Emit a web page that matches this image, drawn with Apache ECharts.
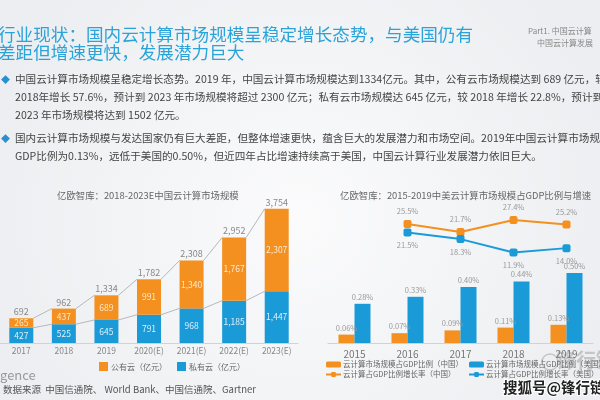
<!DOCTYPE html>
<html><head><meta charset="utf-8">
<script src="https://cdn.jsdelivr.net/npm/echarts@6/dist/echarts.min.js"></script>
<style>html,body{margin:0;padding:0;}#c{width:600px;height:400px;}</style>
</head><body><div id="c"></div>
<script>
// ---- data ----
const yearsL = ['2017','2018','2019','2020(E)','2021(E)','2022(E)','2023(E)'];
const publicCloud = [265, 437, 689, 991, 1340, 1767, 2307];
const privateCloud = [427, 525, 645, 791, 968, 1185, 1447];
const totalCloud = [692, 962, 1334, 1782, 2308, 2952, 3754];

const yearsR = ['2015','2016','2017','2018','2019'];
const gdpChina = [0.06, 0.07, 0.09, 0.11, 0.13];
const gdpUS = [0.28, 0.33, 0.40, 0.44, 0.50];
const growthChina = [null, 25.5, 21.7, 27.4, 25.2];
const growthUS = [null, 21.5, 18.3, 11.9, 14.0];

const titleLines = ['行业现状：国内云计算市场规模呈稳定增长态势，与美国仍有', '差距但增速更快，发展潜力巨大'];
const bulletLines = [
  '中国云计算市场规模呈稳定增长态势。2019 年，中国云计算市场规模达到1334亿元。其中，公有云市场规模达到 689 亿元，较',
  '2018年增长 57.6%，预计到 2023 年市场规模将超过 2300 亿元；私有云市场规模达 645 亿元，较 2018 年增长 22.8%，预计到',
  '2023 年市场规模将达到 1502 亿元。',
  '国内云计算市场规模与发达国家仍有巨大差距，但整体增速更快，蕴含巨大的发展潜力和市场空间。2019年中国云计算市场规模',
  'GDP比例为0.13%，远低于美国的0.50%，但近四年占比增速持续高于美国，中国云计算行业发展潜力依旧巨大。'
];

const ORANGE = '#f3901f', BLUE = '#1b9ad8', FONT = '"Noto Sans CJK SC", "Noto Sans", sans-serif';

const chart = echarts.init(document.getElementById('c'));

function connector(vals) {
  const d = [];
  for (let i = 0; i < vals.length - 1; i++) d.push([i, vals[i], vals[i + 1]]);
  return d;
}
function connRender(params, api) {
  const i = api.value(0);
  const p1 = api.coord([i, api.value(1)]);
  const p2 = api.coord([i + 1, api.value(2)]);
  const hw = 12;
  return { type: 'line', shape: { x1: p1[0] + hw, y1: p1[1], x2: p2[0] - hw, y2: p2[1] },
    style: { stroke: '#b5b8bd', lineWidth: 1 } };
}

const graphics = [];
titleLines.forEach((t, k) => graphics.push({ type: 'text', left: -2, top: 26 + k * 18,
  style: { text: t, font: '17.6px ' + FONT, fill: '#2aa3d8' } }));
graphics.push({ type: 'text', left: 528, top: 27, style: { text: 'Part1. 中国云计算', font: '8px ' + FONT, fill: '#888' } });
graphics.push({ type: 'text', left: 537, top: 39, style: { text: '中国云计算发展', font: '8px ' + FONT, fill: '#888' } });
const bulletY = [81, 99, 117, 140, 158];
bulletLines.forEach((t, k) => {
  graphics.push({ type: 'text', left: 15, top: bulletY[k] - 7, style: { text: t, font: '10.6px ' + FONT, fill: '#444' } });
});
[81, 140].forEach(y => graphics.push({ type: 'text', left: 1, top: y - 6, style: { text: '◆', font: '9px ' + FONT, fill: '#2a8fd0' } }));
graphics.push({ type: 'text', left: 57, top: 191, style: { text: '亿欧智库：2018-2023E中国云计算市场规模', font: '9.4px ' + FONT, fill: '#666' } });
graphics.push({ type: 'text', left: 340, top: 191, style: { text: '亿欧智库：2015-2019中美云计算市场规模占GDP比例与增速', font: '9.4px ' + FONT, fill: '#666' } });
graphics.push({ type: 'text', left: 0, top: 369, style: { text: 'gence', font: '13px ' + FONT, fill: '#999' } });
graphics.push({ type: 'text', left: 3, top: 385, style: { text: '数据来源  中国信通院、 World Bank、中国信通院、Gartner', font: '9.5px ' + FONT, fill: '#555' } });
// watermark
graphics.push({ type: 'text', left: 556, top: 350, z: 50, style: { text: '锋行链盟', font: 'bold 20px ' + FONT, fill: 'rgba(120,120,120,0.35)' } });
graphics.push({ type: 'circle', shape: { cx: 550, cy: 362, r: 8 }, z: 50, style: { fill: 'none', stroke: 'rgba(120,120,120,0.35)', lineWidth: 1.5 } });
graphics.push({ type: 'text', left: 502, top: 379, z: 60, style: { text: '搜狐号@锋行链盟', font: 'bold 14.5px ' + FONT, fill: '#222', stroke: '#fff', lineWidth: 2 } });

const axisLabelR = { color: '#777', fontSize: 10, fontFamily: FONT, margin: 6 };
const lblR = { show: true, position: 'top', color: '#999', fontSize: 7.5, fontFamily: FONT, formatter: p => p.value.toFixed(2) + '%', distance: 3 };
const legTextR = { color: '#666', fontSize: 7.5, fontFamily: FONT, padding: [0, 0, 0, -3], lineHeight: 9 };

chart.setOption({
  backgroundColor: { type: 'radial', x: 0.5, y: 0.55, r: 0.8, colorStops: [{ offset: 0, color: '#fbfbfc' }, { offset: 1, color: '#eceef1' }] },
  animation: false,
  textStyle: { fontFamily: FONT },
  graphic: graphics,
  grid: [
    { left: -3, width: 301, top: 200, height: 143 },
    { left: 328, width: 265, top: 203, height: 140 }
  ],
  xAxis: [
    { type: 'category', data: yearsL, gridIndex: 0, axisTick: { show: false },
      axisLine: { lineStyle: { color: '#cfd2d6' } },
      axisLabel: { color: '#888', fontSize: 8.5, fontFamily: FONT, margin: 4, interval: 0 } },
    { type: 'category', data: yearsR, gridIndex: 1, axisTick: { show: false },
      axisLine: { lineStyle: { color: '#cfd2d6' } }, axisLabel: axisLabelR }
  ],
  yAxis: [
    { type: 'value', gridIndex: 0, min: 0, max: 4000, show: false, splitLine: { show: false } },
    { type: 'value', gridIndex: 1, min: 0, max: 1.0, show: false, splitLine: { show: false } },
    { type: 'value', gridIndex: 1, min: -31.2, max: 35.5, show: false, splitLine: { show: false } }
  ],
  legend: [
    { left: 94, top: 357, itemWidth: 9, itemHeight: 9, itemGap: 10, icon: 'rect',
      textStyle: { color: '#666', fontSize: 8, fontFamily: FONT, padding: [0, 0, 0, -2] },
      data: ['公有云（亿元）', '私有云（亿元）'] },
    { left: 325, top: 360, padding: 0, orient: 'vertical', itemWidth: 15, itemHeight: 6, itemGap: 1,
      textStyle: legTextR,
      data: [{ name: '云计算市场规模占GDP比例（中国）', icon: 'roundRect' }, '云计算占GDP比例增长率（中国）'] },
    { left: 468, top: 360, padding: 0, orient: 'vertical', itemWidth: 15, itemHeight: 6, itemGap: 1,
      textStyle: legTextR,
      data: [{ name: '云计算市场规模占GDP比例（美国）', icon: 'roundRect' }, '云计算占GDP比例增长率（美国）'] }
  ],
  series: [
    { type: 'custom', xAxisIndex: 0, yAxisIndex: 0, renderItem: connRender, data: connector(totalCloud), encode: { x: 0, y: 1 }, z: 1, silent: true },
    { type: 'custom', xAxisIndex: 0, yAxisIndex: 0, renderItem: connRender, data: connector(privateCloud), encode: { x: 0, y: 1 }, z: 1, silent: true },
    { name: '私有云（亿元）', type: 'bar', stack: 'c', xAxisIndex: 0, yAxisIndex: 0, data: privateCloud, barWidth: 24,
      itemStyle: { color: BLUE }, z: 3,
      label: { show: true, position: 'inside', color: 'rgba(255,255,255,0.85)', fontSize: 8.5, fontFamily: FONT,
        formatter: p => p.value.toLocaleString('en-US') } },
    { name: '公有云（亿元）', type: 'bar', stack: 'c', xAxisIndex: 0, yAxisIndex: 0, data: publicCloud, barWidth: 24,
      itemStyle: { color: ORANGE }, z: 3,
      label: { show: true, position: 'inside', color: 'rgba(255,255,255,0.8)', fontSize: 8.5, fontFamily: FONT,
        formatter: p => p.value.toLocaleString('en-US') } },
    { type: 'bar', stack: 'c', xAxisIndex: 0, yAxisIndex: 0, data: totalCloud.map(() => 0), barWidth: 24, silent: true,
      label: { show: true, position: 'top', color: '#888', fontSize: 9, fontFamily: FONT, distance: 2,
        formatter: p => totalCloud[p.dataIndex].toLocaleString('en-US') } },
    { name: '云计算市场规模占GDP比例（中国）', type: 'bar', xAxisIndex: 1, yAxisIndex: 1, data: gdpChina, barWidth: 16, barGap: '0%',
      itemStyle: { color: ORANGE }, label: lblR },
    { name: '云计算市场规模占GDP比例（美国）', type: 'bar', xAxisIndex: 1, yAxisIndex: 1, data: gdpUS, barWidth: 16, barGap: '0%',
      itemStyle: { color: BLUE }, label: lblR },
    { name: '云计算占GDP比例增长率（中国）', type: 'line', xAxisIndex: 1, yAxisIndex: 2, data: growthChina,
      symbol: 'roundRect', symbolSize: 8, lineStyle: { color: ORANGE, width: 2 }, itemStyle: { color: ORANGE },
      label: { show: true, position: 'top', color: '#999', fontSize: 7.5, distance: 5, formatter: p => p.value.toFixed(1) + '%' } },
    { name: '云计算占GDP比例增长率（美国）', type: 'line', xAxisIndex: 1, yAxisIndex: 2, data: growthUS,
      symbol: 'roundRect', symbolSize: 8, lineStyle: { color: BLUE, width: 2 }, itemStyle: { color: BLUE },
      label: { show: true, position: 'bottom', color: '#999', fontSize: 7.5, distance: 5, formatter: p => p.value.toFixed(1) + '%' } }
  ]
});
</script></body></html>
